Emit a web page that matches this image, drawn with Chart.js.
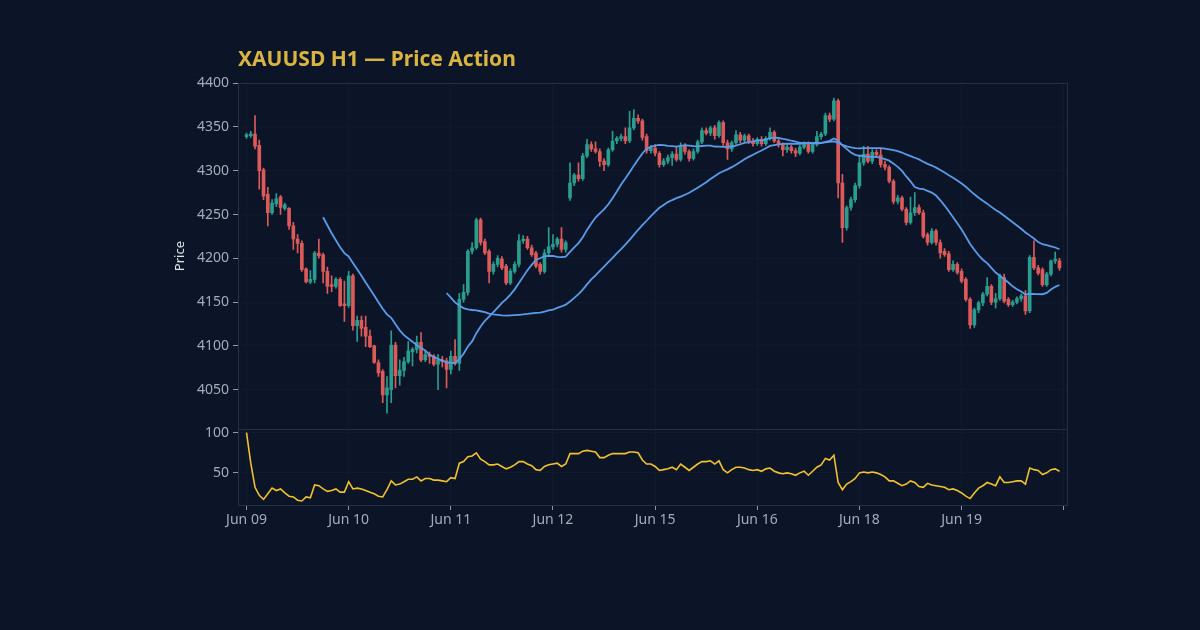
<!DOCTYPE html>
<html>
<head>
<meta charset="utf-8">
<script src="https://cdn.jsdelivr.net/npm/chart.js@4.4.1/dist/chart.umd.min.js"></script>
<style>
  html, body { margin: 0; padding: 0; background: #0b1527; }
  #wrap { width: 1200px; height: 630px; }
</style>
</head>
<body>
<div id="wrap"><canvas id="canvas" width="1200" height="630"></canvas></div>
<script>
// hourly candles, 24 per trading day
const dayLabels = ['Jun 09', 'Jun 10', 'Jun 11', 'Jun 12', 'Jun 15', 'Jun 16', 'Jun 18', 'Jun 19', '']
const barsPerDay = 24

const opens = [
  4339,4340,4342,4329,4301,4273,4252,4262,4270,4257,4257,4237,4222,4217,4188,4173,4176,4206,4204,4185,4170,4168,4176,4148,
  4146,4180,4123,4129,4121,4111,4100,4081,4071,4044,4050,4101,4066,4072,4082,4093,4096,4104,4084,4090,4088,4079,4084,4083,
  4073,4088,4080,4153,4161,4208,4212,4244,4219,4208,4185,4193,4199,4191,4172,4185,4193,4220,4222,4212,4206,4193,4185,4206,
  4213,4216,4222,4210,4269,4286,4295,4291,4317,4330,4325,4322,4311,4307,4324,4334,4337,4339,4334,4349,4360,4357,4339,4323,
  4326,4320,4307,4311,4315,4319,4313,4328,4322,4314,4322,4333,4346,4343,4349,4340,4355,4332,4325,4332,4341,4335,4340,4334,
  4331,4336,4331,4337,4344,4334,4330,4324,4327,4323,4320,4327,4331,4322,4330,4339,4342,4363,4359,4380,4286,4235,4258,4267,
  4283,4309,4319,4311,4321,4318,4307,4304,4288,4265,4269,4256,4241,4252,4258,4252,4227,4218,4231,4218,4208,4205,4187,4193,
  4185,4176,4153,4124,4141,4149,4159,4168,4150,4154,4178,4153,4147,4150,4154,4157,4140,4201,4189,4187,4170,4182,4197,4197
]
const highs = [
  4343,4345,4363,4335,4303,4281,4267,4274,4272,4263,4258,4241,4227,4220,4189,4186,4208,4222,4206,4190,4180,4178,4178,4174,
  4185,4182,4134,4134,4134,4118,4101,4084,4073,4065,4117,4104,4084,4087,4105,4098,4111,4115,4094,4093,4090,4090,4088,4086,
  4094,4107,4160,4170,4210,4218,4246,4246,4222,4210,4196,4203,4202,4193,4188,4196,4227,4226,4225,4215,4208,4195,4210,4235,
  4227,4224,4235,4220,4309,4297,4309,4320,4336,4333,4333,4325,4314,4326,4345,4339,4342,4349,4368,4370,4364,4359,4342,4329,
  4330,4322,4314,4318,4322,4327,4332,4331,4324,4325,4335,4349,4349,4351,4352,4357,4357,4335,4334,4346,4344,4342,4342,4337,
  4338,4339,4339,4349,4346,4336,4332,4330,4329,4326,4329,4333,4333,4332,4345,4344,4366,4366,4383,4382,4296,4260,4270,4286,
  4318,4328,4328,4324,4324,4326,4311,4306,4290,4272,4271,4258,4270,4275,4261,4255,4229,4234,4233,4221,4211,4208,4197,4195,
  4188,4178,4155,4143,4151,4161,4178,4170,4160,4182,4182,4155,4152,4156,4159,4163,4203,4220,4192,4189,4184,4198,4207,4200
]
const lows = [
  4337,4338,4325,4279,4267,4237,4250,4259,4250,4255,4233,4210,4206,4185,4172,4171,4172,4200,4172,4160,4162,4166,4145,4128,
  4144,4118,4105,4111,4099,4098,4080,4065,4035,4023,4035,4052,4055,4065,4080,4077,4092,4082,4082,4080,4077,4050,4076,4052,
  4068,4078,4072,4150,4158,4205,4210,4215,4204,4172,4182,4190,4187,4170,4170,4183,4190,4217,4210,4202,4189,4182,4183,4203,
  4210,4213,4207,4207,4266,4283,4288,4289,4315,4322,4320,4305,4300,4305,4322,4331,4334,4331,4332,4347,4354,4335,4320,4320,
  4317,4304,4305,4308,4306,4311,4311,4319,4311,4312,4320,4331,4341,4340,4336,4338,4329,4313,4322,4330,4332,4333,4331,4328,
  4329,4328,4329,4335,4332,4327,4317,4321,4320,4316,4318,4325,4320,4320,4328,4336,4340,4356,4357,4269,4218,4232,4255,4264,
  4280,4306,4309,4308,4315,4304,4301,4286,4262,4262,4254,4238,4239,4249,4250,4223,4215,4216,4215,4200,4202,4185,4185,4182,
  4172,4151,4120,4121,4138,4146,4157,4147,4143,4152,4149,4145,4145,4148,4151,4136,4138,4187,4181,4168,4168,4180,4194,4186
]
const closes = [
  4341,4342,4328,4300,4271,4252,4263,4268,4258,4261,4237,4222,4217,4187,4173,4176,4206,4203,4185,4168,4168,4176,4146,4146,
  4180,4123,4129,4120,4111,4099,4081,4069,4044,4052,4101,4066,4072,4082,4094,4096,4104,4084,4090,4088,4079,4084,4082,4073,
  4088,4080,4153,4161,4208,4212,4244,4218,4206,4185,4193,4200,4189,4172,4185,4193,4220,4222,4212,4204,4191,4185,4206,4213,
  4216,4222,4210,4218,4286,4295,4291,4317,4330,4325,4322,4311,4307,4324,4334,4337,4339,4334,4349,4360,4357,4338,4323,4326,
  4320,4307,4311,4315,4319,4313,4328,4322,4314,4322,4333,4346,4343,4349,4340,4355,4332,4325,4332,4341,4335,4340,4334,4331,
  4336,4331,4337,4344,4334,4330,4324,4327,4323,4320,4327,4331,4322,4330,4339,4342,4363,4359,4380,4286,4235,4258,4267,4283,
  4309,4319,4311,4321,4318,4307,4304,4288,4265,4269,4256,4241,4252,4258,4252,4225,4218,4231,4218,4206,4204,4187,4193,4184,
  4174,4153,4124,4141,4149,4159,4168,4150,4154,4180,4151,4147,4150,4154,4157,4140,4201,4189,4183,4170,4182,4197,4199,4189
]
const rsi = [
  100,62,32,22,17,24,31,28,30,25,21,20,16,15,20,19,35,34,30,27,28,30,26,26,
  39,30,31,30,28,26,24,21,20,29,40,35,36,39,42,42,45,40,43,43,41,41,40,39,
  44,43,62,64,70,71,75,67,64,60,60,61,58,55,57,60,64,64,61,59,54,53,58,60,
  61,62,58,61,74,74,74,77,78,77,76,69,69,72,74,74,74,74,76,76,75,66,61,61,
  58,53,54,55,57,54,61,57,53,57,61,64,64,65,61,65,54,50,54,57,57,56,54,53,
  54,52,55,56,52,50,49,50,49,47,50,52,47,52,57,60,68,66,72,38,29,36,39,43,
  50,51,50,51,50,48,45,40,40,37,34,36,40,38,33,32,37,35,34,33,32,29,30,28,
  25,21,18,25,31,34,38,36,34,45,38,38,39,40,40,36,56,54,53,48,50,54,55,52
]
const yTicks = [4050, 4100, 4150, 4200, 4250, 4300, 4350, 4400]
const rsiTicks = [50, 100]

const fastPeriod = 19
const slowPeriod = 48

const upColor = '#2a9d8f'
const downColor = '#dc5a5a'
const maColor = '#5b9bea'
const rsiColor = '#f2c12e'
const gridColor = 'rgba(255,255,255,0.022)'
const tickColor = '#a3acba'
const tickFont = { family: 'Noto Sans', size: 14 }

function sma(values, n) {
  return values.map(function (v, i) {
    if (i < n - 1) return null
    let s = 0
    for (let k = i - n + 1; k <= i; k++) s += values[k]
    return s / n
  })
}

const colors = closes.map(function (c, i) { return c >= opens[i] ? upColor : downColor })
const wickData = closes.map(function (c, i) { return { x: i, y: [lows[i], highs[i]] } })
const bodyData = closes.map(function (c, i) { return { x: i, y: [opens[i], c] } })
const fastData = sma(closes, fastPeriod).map(function (v, i) { return { x: i, y: v } })
const slowData = sma(closes, slowPeriod).map(function (v, i) { return { x: i, y: v } })
const rsiData = rsi.map(function (v, i) { return { x: i, y: v } })
const dayTicks = dayLabels.map(function (l, d) { return d * barsPerDay })

const panelFrame = {
  id: 'panelFrame',
  beforeDatasetsDraw(chart) {
    const ctx = chart.ctx, area = chart.chartArea
    ctx.save()
    ctx.strokeStyle = '#233045'
    ctx.lineWidth = 1
    ;['y', 'y2'].forEach(function (id) {
      const s = chart.scales[id]
      ctx.strokeRect(Math.round(area.left) + 0.5, Math.round(s.top) + 0.5,
        Math.round(area.right - area.left) - 1, Math.round(s.bottom - s.top))
    })
    ctx.restore()
  }
}

const config = {
  type: 'bar',
  data: {
    datasets: [
      { label: 'Wick', data: wickData, backgroundColor: colors, barThickness: 1, grouped: false, order: 3, yAxisID: 'y' },
      { label: 'Body', data: bodyData, backgroundColor: colors, barThickness: 3, minBarLength: 1, grouped: false, order: 2, yAxisID: 'y' },
      { type: 'line', label: 'MA fast', data: fastData, borderColor: maColor, borderWidth: 1.8, pointRadius: 0, tension: 0, order: 1, yAxisID: 'y' },
      { type: 'line', label: 'MA slow', data: slowData, borderColor: maColor, borderWidth: 1.8, pointRadius: 0, tension: 0, order: 1, yAxisID: 'y' },
      { type: 'line', label: 'RSI', data: rsiData, borderColor: rsiColor, borderWidth: 1.6, pointRadius: 0, tension: 0, order: 1, yAxisID: 'y2' }
    ]
  },
  options: {
    responsive: false,
    animation: false,
    events: [],
    layout: { padding: { left: 168, right: 132, top: 47, bottom: 95 } },
    plugins: {
      legend: { display: false },
      tooltip: { enabled: false },
      title: {
        display: true,
        text: 'XAUUSD H1 \u2014 Price Action',
        align: 'start',
        fullSize: false,
        color: '#d9b443',
        font: { family: 'Noto Sans', size: 21, weight: 'bold' },
        padding: { top: 0, bottom: 11 }
      }
    },
    scales: {
      x: {
        type: 'linear',
        min: -2,
        max: 193,
        offset: false,
        afterBuildTicks: function (s) { s.ticks = dayTicks.map(function (v) { return { value: v } }) },
        afterFit: function (s) { s.height = 30 },
        ticks: {
          color: tickColor,
          font: tickFont,
          padding: 2,
          maxRotation: 0,
          autoSkip: false,
          callback: function (v) { return dayLabels[dayTicks.indexOf(v)] }
        },
        grid: { color: gridColor, tickColor: '#8f98a8', tickLength: 5, offset: false },
        border: { display: false }
      },
      y2: {
        type: 'linear',
        position: 'left',
        stack: 'panels',
        stackWeight: 1,
        min: 10,
        max: 104.6,
        afterBuildTicks: function (s) { s.ticks = rsiTicks.map(function (v) { return { value: v } }) },
        afterFit: function (s) { s.width = 70 },
        ticks: { color: tickColor, font: tickFont, padding: 4, callback: function (v) { return String(v) } },
        grid: { color: gridColor, tickColor: '#8f98a8', tickLength: 5 },
        border: { display: false }
      },
      y: {
        type: 'linear',
        position: 'left',
        stack: 'panels',
        stackWeight: 4.55,
        min: 4005,
        max: 4400,
        afterBuildTicks: function (s) { s.ticks = yTicks.map(function (v) { return { value: v } }) },
        afterFit: function (s) { s.width = 70 },
        ticks: { color: tickColor, font: tickFont, padding: 4, callback: function (v) { return String(v) } },
        grid: { color: gridColor, tickColor: '#8f98a8', tickLength: 5 },
        border: { display: false },
        title: { display: true, text: 'Price', color: '#dde3ec', font: { family: 'Noto Sans', size: 13 } }
      }
    }
  },
  plugins: [panelFrame]
}

const canvas = document.getElementById('canvas')
const chart = new Chart(canvas, config)
</script>
</body>
</html>
